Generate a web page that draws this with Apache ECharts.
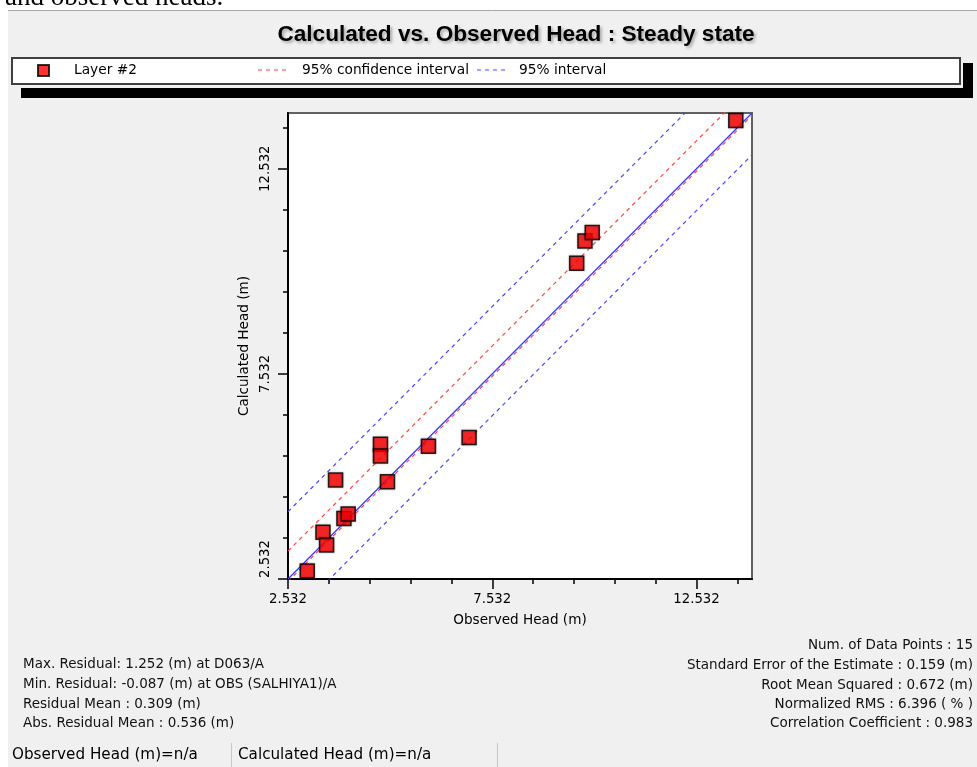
<!DOCTYPE html>
<html><head><meta charset="utf-8">
<script src="https://cdn.jsdelivr.net/npm/echarts@6/dist/echarts.min.js"></script>
<style>html,body{margin:0;padding:0;background:#fff;}#c{width:977px;height:767px;}</style>
</head><body><div id="c"></div>
<script>
// ---- data ----
const observed   = [3.004, 3.388, 3.476, 3.696, 3.901, 4.006, 4.796, 4.796, 4.967, 5.970, 6.965, 9.598, 9.801, 9.979, 13.493];
const calculated = [2.728, 3.674, 3.363, 4.945, 4.009, 4.114, 5.818, 5.532, 4.904, 5.769, 5.979, 10.226, 10.772, 10.977, 13.706];
const axisMin = 2.532;
const axisMax = 13.89;
const tickValues  = [2.532, 3.532, 4.532, 5.532, 6.532, 7.532, 8.532, 9.532, 10.532, 11.532, 12.532, 13.532];
const labelValues = [2.532, 7.532, 12.532];
const confidenceOffsets = [0.68, -0.06];   // 95% confidence interval lines (calc - obs)
const intervalOffsets   = [1.64, -1.02];   // 95% interval lines
const statsLeft = [
  'Max. Residual: 1.252 (m) at D063/A',
  'Min. Residual: -0.087 (m) at OBS (SALHIYA1)/A',
  'Residual Mean : 0.309 (m)',
  'Abs. Residual Mean : 0.536 (m)'
];
const statsRight = [
  'Num. of Data Points : 15',
  'Standard Error of the Estimate : 0.159 (m)',
  'Root Mean Squared : 0.672 (m)',
  'Normalized RMS : 6.396 ( % )',
  'Correlation Coefficient : 0.983'
];
const statusTexts = ['Observed Head (m)=n/a', 'Calculated Head (m)=n/a'];

// ---- chart ----
const FONT = 'DejaVu Sans';
const BLUE = '#4646ff', RED = '#ff4646';
const chart = echarts.init(document.getElementById('c'), null, {renderer: 'canvas'});
function lineFromOffset(off) { return [[axisMin, axisMin + off], [axisMax, axisMax + off]]; }
function dashed(name, off, color, z) {
  return {name: name, type: 'line', data: lineFromOffset(off), symbol: 'none', silent: true, clip: true, z: z,
    itemStyle: {color: color}, lineStyle: {color: color, width: 1.2, type: [4, 4]}};
}
const fmt = v => v.toFixed(3);
const dashIcon = 'path://M0 0h4v1h-4zM8 0h4v1h-4zM16 0h4v1h-4zM24 0h4v1h-4z';

const graphics = [
  {type: 'rect', z: -100, shape: {x: 8, y: 11, width: 969, height: 756}, style: {fill: '#f0f0f0'}},
  {type: 'line', z: -99, shape: {x1: 8, y1: 10.5, x2: 977, y2: 10.5}, style: {stroke: '#a8a8a8', lineWidth: 1}},
  {type: 'text', z: -98, x: 5, y: 11, style: {text: 'and observed heads.', font: '27px "Liberation Serif"', fill: '#000', textVerticalAlign: 'bottom'}},
  // legend box with its shadow
  {type: 'rect', z: -97, shape: {x: 21, y: 63, width: 952, height: 35}, style: {fill: '#000'}},
  {type: 'rect', z: -96, shape: {x: 9, y: 55, width: 954, height: 33}, style: {fill: '#f0f0f0'}},
  {type: 'rect', z: -95, shape: {x: 12, y: 58, width: 948, height: 26}, style: {fill: '#fff', stroke: '#404040', lineWidth: 2}},
  // status bar separators
  {type: 'line', z: -94, shape: {x1: 231.5, y1: 743, x2: 231.5, y2: 767}, style: {stroke: '#c8c8c8', lineWidth: 1}},
  {type: 'line', z: -94, shape: {x1: 497.5, y1: 743, x2: 497.5, y2: 767}, style: {stroke: '#c8c8c8', lineWidth: 1}}
];
statsLeft.forEach((t, i) => graphics.push({type: 'text', z: 50, x: 23, y: [664, 684, 704, 723][i],
  style: {text: t, font: '13.5px "' + FONT + '"', fill: '#111', textVerticalAlign: 'middle'}}));
statsRight.forEach((t, i) => graphics.push({type: 'text', z: 50, x: 973, y: [645, 665, 685, 704, 723][i],
  style: {text: t, font: '13.5px "' + FONT + '"', fill: '#111', textAlign: 'right', textVerticalAlign: 'middle'}}));
statusTexts.forEach((t, i) => graphics.push({type: 'text', z: 50, x: [12, 238][i], y: 755,
  style: {text: t, font: '15.2px "' + FONT + '"', fill: '#000', textVerticalAlign: 'middle'}}));

const legendText = {fontFamily: FONT, fontSize: 13.75, color: '#000'};

chart.setOption({
  animation: false,
  backgroundColor: 'transparent',
  title: {
    text: 'Calculated vs. Observed Head : Steady state',
    left: 511, top: 18, textAlign: 'center',
    textStyle: {fontFamily: 'Liberation Sans', fontWeight: 'bold', fontSize: 22.6, color: '#000',
      textShadowColor: 'rgba(0,0,0,0.3)', textShadowBlur: 3, textShadowOffsetX: 2, textShadowOffsetY: 2}
  },
  legend: [
    {data: ['Layer #2'], left: 32, top: 58.5, itemWidth: 11, itemHeight: 11, icon: 'rect',
      textStyle: Object.assign({padding: [0, 0, 0, 20]}, legendText)},
    {data: ['95% confidence interval'], left: 253, top: 58, itemWidth: 28, itemHeight: 12, icon: dashIcon,
      itemStyle: {color: RED}, textStyle: Object.assign({padding: [0, 0, 0, 11]}, legendText)},
    {data: ['95% interval'], left: 472, top: 58, itemWidth: 28, itemHeight: 12, icon: dashIcon,
      itemStyle: {color: BLUE}, textStyle: Object.assign({padding: [0, 0, 0, 9]}, legendText)}
  ],
  grid: {left: 288, top: 113, width: 464, height: 466, show: true, backgroundColor: '#fff',
    borderColor: '#606060', borderWidth: 2, containLabel: false},
  xAxis: [
    {type: 'value', min: axisMin, max: axisMax, position: 'bottom',
      axisLine: {show: true, lineStyle: {color: '#000', width: 2}},
      axisTick: {show: true, customValues: tickValues, length: 5, lineStyle: {color: '#000', width: 1.5}},
      axisLabel: {customValues: labelValues, formatter: fmt, margin: 14, fontFamily: FONT, fontSize: 13.3, color: '#000'},
      splitLine: {show: false},
      name: 'Observed Head (m)', nameLocation: 'middle', nameGap: 34,
      nameTextStyle: {fontFamily: FONT, fontSize: 13.6, color: '#000'}},
    {type: 'value', min: axisMin, max: axisMax, position: 'bottom',
      axisLine: {show: false},
      axisTick: {show: true, customValues: labelValues, length: 10, lineStyle: {color: '#000', width: 1.5}},
      axisLabel: {show: false}, splitLine: {show: false}}
  ],
  yAxis: [
    {type: 'value', min: axisMin, max: axisMax, position: 'left',
      axisLine: {show: true, lineStyle: {color: '#000', width: 2}},
      axisTick: {show: true, customValues: tickValues, length: 5, lineStyle: {color: '#000', width: 1.5}},
      axisLabel: {customValues: labelValues, rotate: 90, margin: 16, fontFamily: FONT, fontSize: 13.3, color: '#000',
        formatter: v => Math.abs(v - axisMin) < 1e-6 ? '{low|' + fmt(v) + '}' : fmt(v),
        rich: {low: {padding: [0, 0, 0, 40], fontFamily: FONT, fontSize: 13.3, color: '#000'}}},
      splitLine: {show: false},
      name: 'Calculated Head (m)', nameLocation: 'middle', nameGap: 37,
      nameTextStyle: {fontFamily: FONT, fontSize: 13.6, color: '#000'}},
    {type: 'value', min: axisMin, max: axisMax, position: 'left',
      axisLine: {show: false},
      axisTick: {show: true, customValues: labelValues, length: 10, lineStyle: {color: '#000', width: 1.5}},
      axisLabel: {show: false}, splitLine: {show: false}}
  ],
  series: [
    dashed('95% interval', intervalOffsets[0], BLUE, 2),
    dashed('95% interval', intervalOffsets[1], BLUE, 2),
    {name: '1:1', type: 'line', data: lineFromOffset(0), symbol: 'none', silent: true, clip: true, z: 3,
      lineStyle: {color: '#3a3aff', width: 1.3}},
    dashed('95% confidence interval', confidenceOffsets[0], RED, 4),
    dashed('95% confidence interval', confidenceOffsets[1], RED, 4),
    {name: 'Layer #2', type: 'scatter', z: 10,
      data: observed.map((x, i) => [x, calculated[i]]),
      symbol: 'rect', symbolSize: 14,
      itemStyle: {color: '#ff0000', borderColor: '#000', borderWidth: 1.5,
        shadowColor: 'rgba(0,0,0,0.35)', shadowBlur: 2}}
  ],
  graphic: graphics
});
</script></body></html>
